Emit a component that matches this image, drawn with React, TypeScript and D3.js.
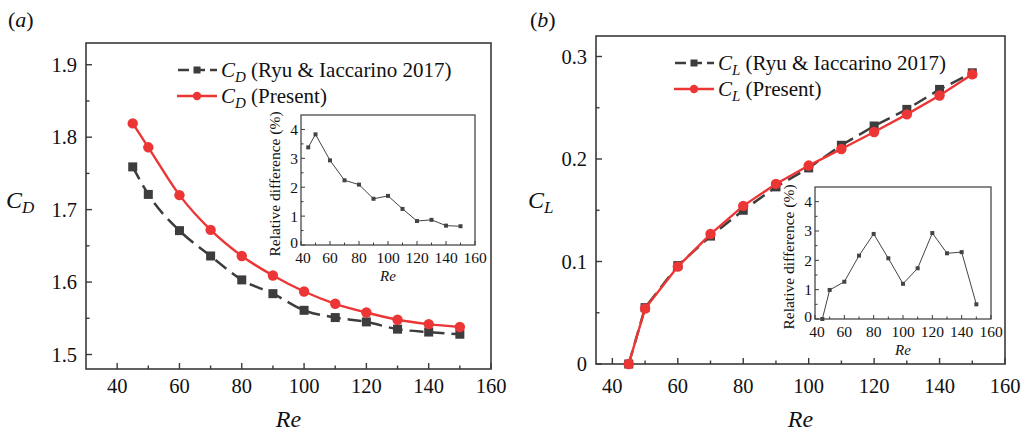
import React from "react";
import * as d3 from "d3";

const RE = [45, 50, 60, 70, 80, 90, 100, 110, 120, 130, 140, 150];
const CD_RYU = [1.759, 1.721, 1.671, 1.636, 1.603, 1.584, 1.561, 1.551, 1.545, 1.535, 1.531, 1.528];
const CD_PRESENT = [1.819, 1.786, 1.72, 1.672, 1.636, 1.609, 1.587, 1.57, 1.558, 1.548, 1.542, 1.538];
const CD_DIFF = [3.38, 3.83, 2.93, 2.24, 2.09, 1.6, 1.7, 1.25, 0.83, 0.87, 0.67, 0.65];
const CL_RYU = [0, 0.055, 0.096, 0.1248, 0.15, 0.1728, 0.1913, 0.2134, 0.2322, 0.2484, 0.2679, 0.2841];
const CL_PRESENT = [0, 0.0541, 0.095, 0.1268, 0.1543, 0.1757, 0.1936, 0.2098, 0.2263, 0.2435, 0.262, 0.2827];
const CL_DIFF = [0, 0.99, 1.27, 2.16, 2.9, 2.07, 1.2, 1.73, 2.93, 2.24, 2.28, 0.5];

const X_MAJOR = [40, 60, 80, 100, 120, 140, 160];
const X_MINOR = [50, 70, 90, 110, 130, 150];
const CD_MAJOR = [1.5, 1.6, 1.7, 1.8, 1.9];
const CD_MINOR = [1.55, 1.65, 1.75, 1.85];
const CL_MAJOR = [0, 0.1, 0.2, 0.3];
const CL_MINOR = [0.05, 0.15, 0.25];
const INSET_Y_MAJOR = [0, 1, 2, 3, 4];
const INSET_Y_MINOR = [0.5, 1.5, 2.5, 3.5];

const FONT = "'Liberation Serif', 'Times New Roman', serif";
const RED = "#ec3636";
const GREY = "#3d3d3d";
const AXIS = "#3a3a3a";

type Box = { left: number; right: number; top: number; bottom: number };

function Sym({ sub, size, subSize }: { sub: string; size: number; subSize: number }) {
  return (
    <>
      <tspan fontStyle="italic" fontSize={size}>C</tspan>
      <tspan fontStyle="italic" fontSize={subSize} dy={5}>{sub}</tspan>
    </>
  );
}

function Inset({ box, data }: { box: Box; data: number[] }) {
  const x = d3.scaleLinear().domain([40, 160]).range([box.left, box.right]);
  const y = d3.scaleLinear().domain([0, 4.5]).range([box.bottom, box.top]);
  const line = d3.line<number>().x((_, i) => x(RE[i])).y((d) => y(d));
  return (
    <g>
      <rect x={box.left} y={box.top} width={box.right - box.left} height={box.bottom - box.top} fill="white" stroke={AXIS} strokeWidth={1.2} />
      {X_MAJOR.map((t) => (
        <g key={"xm" + t}>
          <line x1={x(t)} x2={x(t)} y1={box.bottom} y2={box.bottom - 4} stroke={AXIS} strokeWidth={1} />
          <text x={x(t) + (t === 40 ? 2 : 0)} y={box.bottom + 18} textAnchor="middle" fontSize={15.5} fontFamily={FONT} fill="#111">{t}</text>
        </g>
      ))}
      {X_MINOR.map((t) => (
        <line key={"xn" + t} x1={x(t)} x2={x(t)} y1={box.bottom} y2={box.bottom - 2.5} stroke={AXIS} strokeWidth={1} />
      ))}
      {INSET_Y_MAJOR.map((t) => (
        <g key={"ym" + t}>
          <line x1={box.left} x2={box.left + 4} y1={y(t)} y2={y(t)} stroke={AXIS} strokeWidth={1} />
          <text x={box.left - 3} y={y(t) - (t === 0 ? 2 : 0)} dy="0.35em" textAnchor="end" fontSize={15.5} fontFamily={FONT} fill="#111">{t}</text>
        </g>
      ))}
      {INSET_Y_MINOR.map((t) => (
        <line key={"yn" + t} x1={box.left} x2={box.left + 2.5} y1={y(t)} y2={y(t)} stroke={AXIS} strokeWidth={1} />
      ))}
      <path d={line(data) || ""} fill="none" stroke="#444" strokeWidth={1} />
      {data.map((d, i) => (
        <rect key={i} x={x(RE[i]) - 2} y={y(d) - 2} width={4} height={4} fill="#444" />
      ))}
      <text x={(box.left + box.right) / 2} y={box.bottom + 36} textAnchor="middle" fontSize={15} fontStyle="italic" fontFamily={FONT} fill="#111">Re</text>
      <text
        transform={`translate(${box.left - 21},${(box.top + box.bottom) / 2 + 4}) rotate(-90)`}
        textAnchor="middle"
        fontSize={15.5}
        fontFamily={FONT}
        fill="#111"
      >
        Relative difference (%)
      </text>
    </g>
  );
}

function Panel(props: {
  box: Box;
  xDomain: [number, number];
  yDomain: [number, number];
  yMajor: number[];
  yMinor: number[];
  yFmt: (v: number) => string;
  ryu: number[];
  present: number[];
  smooth: boolean;
  sub: string;
  letter: string;
  letterX: number;
  legendX: number;
  legendY: number;
  xLabelOffset: number;
  inset: Box;
  diff: number[];
}) {
  const { box } = props;
  const x = d3.scaleLinear().domain(props.xDomain).range([box.left, box.right]);
  const y = d3.scaleLinear().domain(props.yDomain).range([box.bottom, box.top]);
  const curve = props.smooth ? d3.curveMonotoneX : d3.curveLinear;
  const line = d3.line<number>().x((_, i) => x(RE[i])).y((d) => y(d)).curve(curve);
  const lx = props.legendX;
  const ly = props.legendY;
  return (
    <g fontFamily={FONT}>
      <text x={props.letterX} y={27} fontSize={22} fill="#111">
        (<tspan fontStyle="italic">{props.letter}</tspan>)
      </text>
      <rect x={box.left} y={box.top} width={box.right - box.left} height={box.bottom - box.top} fill="none" stroke={AXIS} strokeWidth={1.6} />
      {X_MAJOR.map((t) => (
        <g key={"xm" + t}>
          <line x1={x(t)} x2={x(t)} y1={box.bottom} y2={box.bottom - 6} stroke={AXIS} strokeWidth={1.4} />
          <text x={x(t)} y={box.bottom + props.xLabelOffset} textAnchor="middle" fontSize={20.5} fill="#111">{t}</text>
        </g>
      ))}
      {X_MINOR.map((t) => (
        <line key={"xn" + t} x1={x(t)} x2={x(t)} y1={box.bottom} y2={box.bottom - 3.5} stroke={AXIS} strokeWidth={1.4} />
      ))}
      {props.yMajor.map((t) => (
        <g key={"ym" + t}>
          <line x1={box.left} x2={box.left + 6} y1={y(t)} y2={y(t)} stroke={AXIS} strokeWidth={1.4} />
          <text x={box.left - 9} y={y(t)} dy="0.35em" textAnchor="end" fontSize={20.5} fill="#111">{props.yFmt(t)}</text>
        </g>
      ))}
      {props.yMinor.map((t) => (
        <line key={"yn" + t} x1={box.left} x2={box.left + 3.5} y1={y(t)} y2={y(t)} stroke={AXIS} strokeWidth={1.4} />
      ))}
      <text x={(box.left + box.right) / 2} y={427} textAnchor="middle" fontSize={24} fontStyle="italic" fill="#111">Re</text>
      <text x={props.letterX - 2} y={208} fill="#111">
        <Sym sub={props.sub} size={24} subSize={17} />
      </text>

      <path d={line(props.ryu) || ""} fill="none" stroke={GREY} strokeWidth={2.5} strokeDasharray="14,7" />
      {props.ryu.map((d, i) => (
        <rect key={"r" + i} x={x(RE[i]) - 4.5} y={y(d) - 4.5} width={9} height={9} fill={GREY} />
      ))}
      <path d={line(props.present) || ""} fill="none" stroke={RED} strokeWidth={2.4} />
      {props.present.map((d, i) => (
        <circle key={"p" + i} cx={x(RE[i])} cy={y(d)} r={5.2} fill={RED} />
      ))}

      <line x1={lx} x2={lx + 40} y1={ly} y2={ly} stroke={GREY} strokeWidth={2.5} strokeDasharray="11,5" strokeDashoffset={-1} />
      <rect x={lx + 16.5} y={ly - 3.5} width={7} height={7} fill={GREY} />
      <text x={lx + 44} y={ly + 7} fontSize={21} fill="#111">
        <Sym sub={props.sub} size={21} subSize={15} />
        <tspan dy={-5}> (Ryu &amp; Iaccarino 2017)</tspan>
      </text>
      <line x1={lx} x2={lx + 40} y1={ly + 26} y2={ly + 26} stroke={RED} strokeWidth={2.4} />
      <circle cx={lx + 20} cy={ly + 26} r={4.2} fill={RED} />
      <text x={lx + 44} y={ly + 33} fontSize={21} fill="#111">
        <Sym sub={props.sub} size={21} subSize={15} />
        <tspan dy={-5}> (Present)</tspan>
      </text>

      <Inset box={props.inset} data={props.diff} />
    </g>
  );
}

export default function App() {
  return (
    <svg width={1027} height={433} style={{ position: "absolute", left: 0, top: 0, background: "white" }}>
      <rect width={1027} height={433} fill="white" />
      <Panel
        box={{ left: 86, right: 491, top: 43, bottom: 369 }}
        xDomain={[30, 160]}
        yDomain={[1.48, 1.93]}
        yMajor={CD_MAJOR}
        yMinor={CD_MINOR}
        yFmt={(v) => v.toFixed(1)}
        ryu={CD_RYU}
        present={CD_PRESENT}
        smooth={true}
        sub="D"
        letter="a"
        letterX={8}
        legendX={177}
        legendY={70}
        xLabelOffset={24}
        inset={{ left: 301, right: 475, top: 115, bottom: 245 }}
        diff={CD_DIFF}
      />
      <Panel
        box={{ left: 596, right: 1005, top: 36, bottom: 364 }}
        xDomain={[35, 160]}
        yDomain={[0, 0.32]}
        yMajor={CL_MAJOR}
        yMinor={CL_MINOR}
        yFmt={(v) => (v === 0 ? "0" : v.toFixed(1))}
        ryu={CL_RYU}
        present={CL_PRESENT}
        smooth={false}
        sub="L"
        letter="b"
        letterX={530}
        legendX={674}
        legendY={63}
        xLabelOffset={29}
        inset={{ left: 815, right: 991, top: 187, bottom: 319 }}
        diff={CL_DIFF}
      />
    </svg>
  );
}
